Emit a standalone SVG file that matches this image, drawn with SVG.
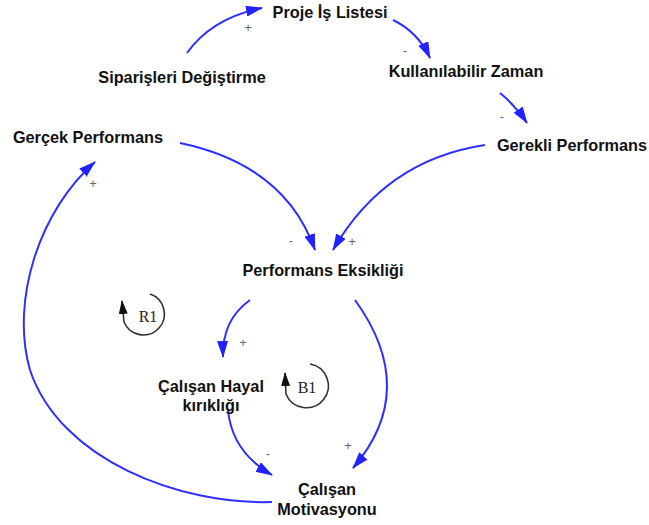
<svg xmlns="http://www.w3.org/2000/svg" width="649" height="525" viewBox="0 0 649 525">
  <style>
    .lbl { font-family: "Liberation Sans", Arial, sans-serif; font-weight: bold; font-size: 16.3px; fill: #111; text-anchor: middle; }
    .link { fill: none; stroke: #2f2fff; stroke-width: 2; marker-end: url(#blueHead); }
    .pol { font-family: "Liberation Sans", Arial, sans-serif; font-size: 13px; fill: #666; text-anchor: middle; }
    .pol-b { fill: #5555ff; }
    .loop { fill: none; stroke: #333; stroke-width: 1.6; marker-end: url(#loopHead); }
    .loopTxt { font-family: "Liberation Serif", "Times New Roman", serif; font-size: 16px; fill: #222; text-anchor: middle; }
  </style>
  <defs>
    <marker id="blueHead" viewBox="0 0 17 11" refX="16" refY="5.5" markerWidth="17" markerHeight="11" markerUnits="userSpaceOnUse" orient="auto">
      <path d="M0,0 L17,5.5 L0,11 z" fill="#2222ff"/>
    </marker>
    <marker id="loopHead" viewBox="0 0 14 9" refX="13" refY="4.5" markerWidth="14" markerHeight="9" markerUnits="userSpaceOnUse" orient="auto">
      <path d="M0,0 L14,4.5 L0,9 z" fill="#111"/>
    </marker>
  </defs>

  <rect width="649" height="525" fill="#fff"/>

  <!-- causal links -->
  <g id="connectors">
    <path class="link" d="M187,53 Q212,18 262,8"/>
    <path class="link" d="M393,20 Q418,32 430,58"/>
    <path class="link" d="M500,93 Q515,105 527,123"/>
    <path class="link" d="M180,143 Q285,165 315,250"/>
    <path class="link" d="M485,145 Q385,160 333,250"/>
    <path class="link" d="M250,300 Q222,320 223,357"/>
    <path class="link" d="M355,300 Q420,390 353,468"/>
    <path class="link" d="M228,410 Q232,452 272,475"/>
    <path class="link" d="M272,502 C180,505 60,460 30,370 C10,300 40,210 95,162"/>

    <!-- polarity signs -->
    <text class="pol" x="248" y="32">+</text>
    <text class="pol pol-b" x="405" y="55">-</text>
    <text class="pol pol-b" x="502" y="121">-</text>
    <text class="pol" x="291" y="245">-</text>
    <text class="pol" x="352" y="246">+</text>
    <text class="pol" x="93" y="188">+</text>
    <text class="pol" x="243" y="347">+</text>
    <text class="pol" x="268" y="458">-</text>
    <text class="pol" x="348" y="450">+</text>
  </g>

  <!-- loop markers -->
  <g id="loop-R1">
    <path class="loop" d="M150,294 A21,21 0 1 1 124,322 L122,301"/>
    <text class="loopTxt" x="148" y="322">R1</text>
  </g>
  <g id="loop-B1">
    <path class="loop" d="M310,364 A22,22 0 1 1 286,394 L285,373"/>
    <text class="loopTxt" x="307" y="393">B1</text>
  </g>

  <!-- variables -->
  <g id="proje-is-listesi"><text class="lbl" x="330" y="18">Proje İş Listesi</text></g>
  <g id="siparisleri-degistirme"><text class="lbl" x="182" y="83">Siparişleri Değiştirme</text></g>
  <g id="kullanilabilir-zaman"><text class="lbl" x="466" y="77">Kullanılabilir Zaman</text></g>
  <g id="gerekli-performans"><text class="lbl" x="572" y="151">Gerekli Performans</text></g>
  <g id="gercek-performans"><text class="lbl" x="88" y="143">Gerçek Performans</text></g>
  <g id="performans-eksikligi"><text class="lbl" x="323" y="276">Performans Eksikliği</text></g>
  <g id="calisan-hayal-kirikligi">
    <text class="lbl" x="211" y="392">Çalışan Hayal</text>
    <text class="lbl" x="211" y="411">kırıklığı</text>
  </g>
  <g id="calisan-motivasyonu">
    <text class="lbl" x="327" y="495">Çalışan</text>
    <text class="lbl" x="327" y="515">Motivasyonu</text>
  </g>
</svg>
